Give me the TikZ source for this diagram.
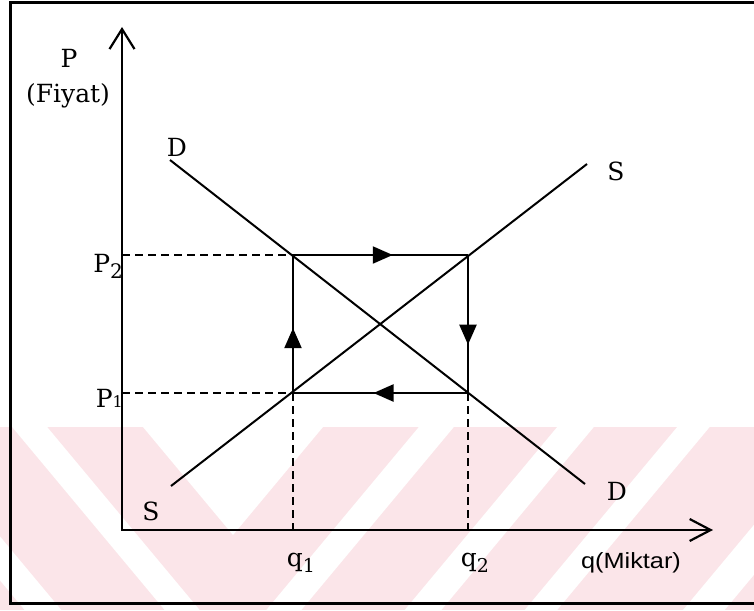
\documentclass[tikz,border=0pt]{standalone}
\usepackage{fontspec}
\setmainfont{DejaVu Serif}
\newfontfamily\arialfont{Liberation Sans}
\usetikzlibrary{arrows.meta,decorations.markings}
\definecolor{wmpink}{RGB}{251,229,233}
\newcommand{\lblsub}[4]{#1\raisebox{#3}{\fontsize{#4}{#4}\selectfont #2}}
\begin{document}
\begin{tikzpicture}[x=1pt,y=-1pt,
  font=\fontsize{25}{25}\selectfont,
  axisline/.style={line width=2.2pt, line join=miter,
    {Straight Barb[length=20pt,width=25pt]}-{Straight Barb[length=21pt,width=22pt]}},
  curve/.style={line width=2pt},
  guide/.style={line width=1.8pt, dash pattern=on 8pt off 5pt},
  edge/.style={line width=2.2pt},
  midarrow/.style={postaction={decorate}, decoration={markings,
    mark=at position #1 with {\arrow{Triangle[length=20pt,width=17pt]}}}},
  lbl/.style={inner sep=0pt, anchor=base},
  band/.style={fill=white}
]
\useasboundingbox (0,0) rectangle (754,610);
\fill[white] (0,0) rectangle (754,610);
% watermark
\begin{scope}
  \clip (0,427) rectangle (754,610);
  \fill[wmpink] (0,427) rectangle (754,610);
  \fill[band] (-567,-425) -- (233,535) -- (1033,-425) -- cycle;
  \fill[band] (-567,-268) -- (233,692) -- (1033,-268) -- (1033,-310) -- (233,650) -- (-567,-310) -- cycle;
  \fill[band] (-567,-100) -- (233,860) -- (1033,-100) -- (1033,-144) -- (233,816) -- (-567,-144) -- cycle;
  \fill[band] (-567,39) -- (233,999) -- (1033,39) -- (1033,0) -- (233,960) -- (-567,0) -- cycle;
  \fill[band] (-567,240) -- (233,1200) -- (1033,240) -- (1033,190) -- (233,1150) -- (-567,190) -- cycle;
\end{scope}
% frame
\draw[line width=3pt] (754,3) -- (10,3) -- (10,603) -- (754,603);
% coordinates
\coordinate (O) at (122,530);
\coordinate (Ytip) at (122,27);
\coordinate (Xtip) at (713,530);
\coordinate (P2L) at (122,255);
\coordinate (P1L) at (122,393);
\coordinate (Q1B) at (293,530);
\coordinate (Q2B) at (468,530);
\coordinate (TL) at (293,255);
\coordinate (TR) at (468,255);
\coordinate (BR) at (468,393);
\coordinate (BL) at (293,393);
\coordinate (Dtop) at (170,160);
\coordinate (Dbot) at (585,484);
\coordinate (Sbot) at (171,486);
\coordinate (Stop) at (587,164);
% guides
\draw[guide] (P2L) -- (TL);
\draw[guide] (P1L) -- (BL);
\draw[guide] (BL) -- (Q1B);
\draw[guide] (BR) -- (Q2B);
% axes
\draw[axisline] (Ytip) -- (O) -- (Xtip);
% curves
\draw[curve] (Dtop) -- (Dbot);
\draw[curve] (Sbot) -- (Stop);
% cycle
\draw[edge, midarrow=0.57] (TL) -- (TR);
\draw[edge, midarrow=0.65] (TR) -- (BR);
\draw[edge, midarrow=0.54] (BR) -- (BL);
\draw[edge, midarrow=0.47] (BL) -- (TL);
% labels
\node[lbl] (lP) at (69,67) {P};
\node[lbl] (lFiyat) at (68,102) {(Fiyat)};
\node[lbl] (lDtop) at (177,156) {D};
\node[lbl] (lStop) at (616,180) {S};
\node[lbl, anchor=base east] (lP2) at (123,272) {\lblsub{P}{2}{-6pt}{20}};
\node[lbl, anchor=base east] (lP1) at (123,407) {\lblsub{P}{1}{0pt}{16}};
\node[lbl] (lq1) at (301,566) {\lblsub{q}{1}{-6pt}{19}};
\node[lbl] (lq2) at (475,566) {\lblsub{q}{2}{-6pt}{19}};
\node[lbl, font=\arialfont\fontsize{22}{22}\selectfont, xscale=1.15] (lMiktar) at (631,568) {q(Miktar)};
\node[lbl] (lDbot) at (617,500) {D};
\node[lbl] (lSbot) at (151,520) {S};
\end{tikzpicture}
\end{document}
